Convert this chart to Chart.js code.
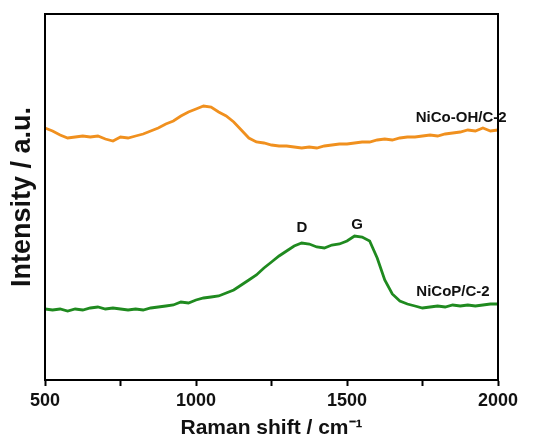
<!DOCTYPE html>
<html>
<head>
<meta charset="utf-8">
<script src="https://cdn.jsdelivr.net/npm/chart.js@4/dist/chart.umd.min.js"></script>
<style>
  html, body { margin: 0; padding: 0; background: #fff; }
  #wrap { width: 533px; height: 441px; }
</style>
</head>
<body>
<div id="wrap"><canvas id="myChart" width="533" height="441"></canvas></div>
<script>
// Raman shift (cm-1)
var shifts = [500, 525, 550, 575, 600, 625, 650, 675, 700, 725, 750, 775, 800, 825, 850, 875, 900, 925, 950, 975,
  1000, 1025, 1050, 1075, 1100, 1125, 1150, 1175, 1200, 1225, 1250, 1275, 1300, 1325, 1350, 1375, 1400, 1425, 1450, 1475,
  1500, 1525, 1550, 1575, 1600, 1625, 1650, 1675, 1700, 1725, 1750, 1775, 1800, 1825, 1850, 1875, 1900, 1925, 1950, 1975, 2000];

// intensities (a.u., offset traces)
var nicoOH = [252, 249, 245, 242, 243, 244, 243, 244, 241, 239, 243, 242, 244, 246, 249, 252, 256, 259, 264, 268,
  271, 274, 273, 268, 264, 258, 250, 242, 238, 237, 235, 234, 234, 233, 232, 233, 232, 234, 235, 236,
  236, 237, 238, 238, 240, 241, 240, 242, 243, 243, 244, 245, 244, 246, 247, 248, 250, 249, 252, 249, 250];

var nicoP = [71, 70, 71, 69, 71, 70, 72, 73, 71, 72, 71, 70, 71, 70, 72, 73, 74, 75, 78, 77,
  80, 82, 83, 84, 87, 90, 95, 100, 105, 112, 118, 124, 129, 134, 137, 136, 133, 132, 135, 136,
  139, 144, 143, 139, 122, 100, 86, 79, 76, 74, 72, 73, 74, 73, 75, 74, 75, 74, 75, 76, 76];

var xTicks = [500, 1000, 1500, 2000];

var notes = [
  { text: "NiCo-OH/C-2", x: 1878, y: 262 },
  { text: "D", x: 1351, y: 152 },
  { text: "G", x: 1533, y: 155 },
  { text: "NiCoP/C-2", x: 1851, y: 88 }
];

function toPoints(xs, ys) {
  return xs.map(function (x, i) { return { x: x, y: ys[i] }; });
}

var framePlugin = {
  id: "frame",
  afterDatasetsDraw: function (chart) {
    var ctx = chart.ctx;
    var a = chart.chartArea;
    var sx = chart.scales.x, sy = chart.scales.y;
    ctx.save();
    ctx.strokeStyle = "#000";
    ctx.lineWidth = 2;
    ctx.strokeRect(a.left, a.top, a.right - a.left, a.bottom - a.top);
    ctx.fillStyle = "#111";
    ctx.font = "bold 15px 'Liberation Sans', Arial, sans-serif";
    ctx.textAlign = "center";
    ctx.textBaseline = "middle";
    notes.forEach(function (n) {
      ctx.fillText(n.text, sx.getPixelForValue(n.x), sy.getPixelForValue(n.y));
    });
    ctx.restore();
  }
};

var config = {
  type: "line",
  data: {
    datasets: [
      {
        label: "NiCo-OH/C-2",
        data: toPoints(shifts, nicoOH),
        borderColor: "#f0901e",
        borderWidth: 2.8,
        pointRadius: 0,
        tension: 0
      },
      {
        label: "NiCoP/C-2",
        data: toPoints(shifts, nicoP),
        borderColor: "#1f8a1f",
        borderWidth: 2.8,
        pointRadius: 0,
        tension: 0
      }
    ]
  },
  options: {
    responsive: false,
    animation: false,
    layout: { padding: { top: 14, right: 35, left: 0, bottom: 0 } },
    plugins: {
      legend: { display: false },
      tooltip: { enabled: false }
    },
    scales: {
      x: {
        type: "linear",
        min: 500,
        max: 2000,
        afterFit: function (s) { s.height = 61; },
        afterBuildTicks: function (s) {
          s.ticks = [500, 750, 1000, 1250, 1500, 1750, 2000].map(function (v) { return { value: v }; });
        },
        ticks: {
          color: "#111",
          font: { family: "'Liberation Sans', Arial, sans-serif", size: 18, weight: "bold" },
          maxRotation: 0,
          padding: 4,
          callback: function (v) { return xTicks.indexOf(v) >= 0 ? String(v) : ""; }
        },
        grid: { drawOnChartArea: false, drawTicks: true, tickLength: 6, tickColor: "#000", tickWidth: 2 },
        border: { display: true, color: "#000", width: 2 },
        title: {
          display: true,
          text: "Raman shift / cm\u207B\u00B9",
          color: "#111",
          font: { family: "'Liberation Sans', Arial, sans-serif", size: 21, weight: "bold" },
          padding: { top: 0, bottom: 0 }
        }
      },
      y: {
        min: 0,
        max: 366,
        afterFit: function (s) { s.width = 45; },
        ticks: { display: false },
        grid: { display: false },
        border: { display: true, color: "#000", width: 2 },
        title: {
          display: true,
          text: "Intensity / a.u.",
          color: "#111",
          font: { family: "'Liberation Sans', Arial, sans-serif", size: 27, weight: "bold" },
          padding: { top: 6, bottom: 0 }
        }
      }
    }
  },
  plugins: [framePlugin]
};

var myChart = document.getElementById("myChart").getContext("2d");
var chart1 = new Chart(myChart, config);
</script>
</body>
</html>
